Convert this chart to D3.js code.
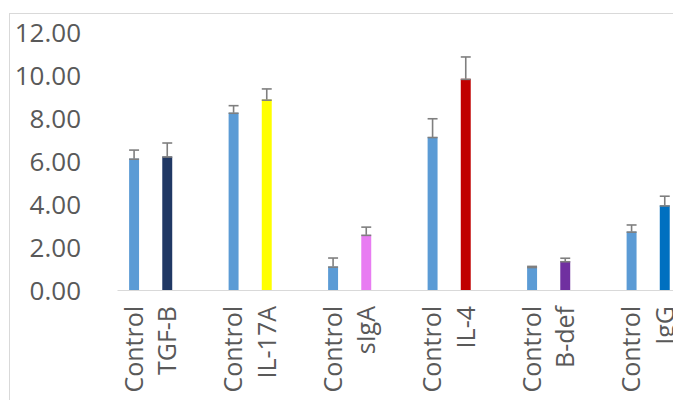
<!DOCTYPE html>
<html>
<head>
<meta charset="utf-8">
<script src="https://cdn.jsdelivr.net/npm/d3@7"></script>
<style>
  html, body { margin: 0; padding: 0; background: #fff; }
  svg { display: block; }
  text { font-family: "Open Sans", "Liberation Sans", sans-serif; fill: #595959; }
</style>
</head>
<body>
<svg id="chart" width="673" height="400"></svg>
<script>
// Marker groups: each pairs a control with a treated measurement
const groups = ["TGF-B", "IL-17A", "sIgA", "IL-4", "B-def", "IgG"];
const controlValues = [6.12, 8.26, 1.09, 7.13, 1.07, 2.72];
const controlErrors = [0.40, 0.33, 0.40, 0.85, 0.03, 0.31];
const treatedValues = [6.22, 8.87, 2.57, 9.84, 1.34, 3.94];
const treatedErrors = [0.63, 0.50, 0.36, 1.02, 0.14, 0.43];
const treatedColors = ["#203864", "#ffff00", "#e87cf2", "#c00000", "#7030a0", "#0070c0"];
const controlColor = "#5b9bd5";
const controlLabel = "Control";
const yTicks = [0, 2, 4, 6, 8, 10, 12];

const svg = d3.select("#chart");

// Chart frame
svg.append("rect")
  .attr("x", 9.5).attr("y", 13.5)
  .attr("width", 700).attr("height", 420)
  .attr("fill", "none").attr("stroke", "#d9d9d9").attr("stroke-width", 1);

const y = d3.scaleLinear().domain([0, 12]).range([290, 32.5]);

// Each group occupies three slots: control, treated, spacer
const x0 = d3.scaleBand().domain(groups).range([117.5, 714.5]);
const x1 = d3.scaleBand().domain(["control", "treated", "spacer"])
  .range([0, x0.bandwidth()]).paddingInner(0.7).paddingOuter(0.35);

// Flatten into bar records
const bars = [];
groups.forEach((g, i) => {
  bars.push({ group: g, slot: "control", label: controlLabel, value: controlValues[i], err: controlErrors[i], color: controlColor });
  bars.push({ group: g, slot: "treated", label: g, value: treatedValues[i], err: treatedErrors[i], color: treatedColors[i] });
});

// Y axis labels
const yAxis = d3.axisLeft(y).tickValues(yTicks).tickFormat(d3.format(".2f")).tickSize(0).tickPadding(0);
const yg = svg.append("g").attr("transform", "translate(81,0)").call(yAxis);
yg.select(".domain").remove();
yg.selectAll("text")
  .attr("font-size", 26)
  .attr("fill", "#595959")
  .attr("font-family", "'Open Sans', sans-serif")
  .attr("dy", "0.35em");

// Baseline
svg.append("line")
  .attr("x1", 117.5).attr("x2", 673)
  .attr("y1", y(0) + 0.5).attr("y2", y(0) + 0.5)
  .attr("stroke", "#d9d9d9").attr("stroke-width", 1.2);

const bx = d => x0(d.group) + x1(d.slot);
const bw = x1.bandwidth();

// Bars
svg.append("g").selectAll("rect")
  .data(bars).join("rect")
  .attr("x", bx)
  .attr("y", d => y(d.value))
  .attr("width", bw)
  .attr("height", d => y(0) - y(d.value))
  .attr("fill", d => d.color);

// Error bars (plus direction, capped)
const eg = svg.append("g").attr("stroke", "#7f7f7f").attr("stroke-width", 1.6).attr("fill", "none");
eg.selectAll("line.stem")
  .data(bars).join("line").attr("class", "stem")
  .attr("x1", d => bx(d) + bw / 2).attr("x2", d => bx(d) + bw / 2)
  .attr("y1", d => y(d.value)).attr("y2", d => y(d.value + d.err));
eg.selectAll("line.cap")
  .data(bars).join("line").attr("class", "cap")
  .attr("x1", d => bx(d)).attr("x2", d => bx(d) + bw)
  .attr("y1", d => y(d.value + d.err)).attr("y2", d => y(d.value + d.err));
eg.selectAll("line.base")
  .data(bars).join("line").attr("class", "base")
  .attr("x1", d => bx(d)).attr("x2", d => bx(d) + bw)
  .attr("y1", d => y(d.value) + 0.5).attr("y2", d => y(d.value) + 0.5);

// Category labels, rotated
svg.append("g").selectAll("text")
  .data(bars).join("text")
  .attr("transform", d => `translate(${bx(d) + bw / 2},306) rotate(-90)`)
  .attr("text-anchor", "end")
  .attr("dy", "0.35em")
  .attr("font-size", 25)
  .text(d => d.label);
</script>
</body>
</html>
